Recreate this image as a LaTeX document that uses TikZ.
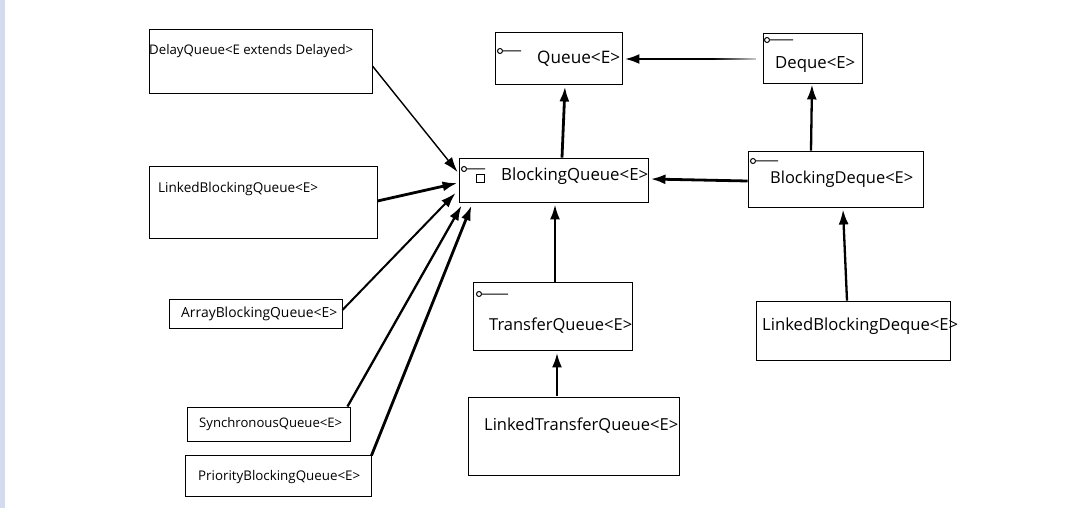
\documentclass[tikz,border=0pt]{standalone}
\usepackage{fontspec}
\setmainfont{Open Sans}
\usetikzlibrary{arrows.meta,calc,fadings}
\definecolor{edgeblue}{RGB}{212,219,236}
\tikzfading[name=fadeR, left color=transparent!100, right color=transparent!20]
\newcommand{\fitw}[2]{\resizebox{#1pt}{!}{#2}}
\tikzset{
  box/.style={draw, line width=0.9pt, rectangle, inner sep=0pt},
  lbl/.style={anchor=west, inner sep=0pt, font=\fontsize{14}{16}\selectfont},
  conn/.style={line width=2.8pt, -{Latex[length=15pt,width=10pt]}},
  iface/.style={line width=1pt},
}
\begin{document}
\begin{tikzpicture}[x=1pt,y=-1pt]
\useasboundingbox (0,0) rectangle (1074,508);
\fill[white] (0,0) rectangle (1074,508);
\fill[edgeblue] (0,0) rectangle (5,508);

% boxes
\node[box, minimum width=223pt, minimum height=64pt] (delay) at (260.5,61) {};
\node[box, minimum width=228pt, minimum height=72pt] (lbq) at (263,202) {};
\node[box, minimum width=173pt, minimum height=29pt] (abq) at (255.5,313.5) {};
\node[box, minimum width=163pt, minimum height=34pt] (sq) at (268.5,424) {};
\node[box, minimum width=186pt, minimum height=41pt] (pbq) at (278,475.5) {};
\node[box, minimum width=127pt, minimum height=52pt] (queue) at (558.5,58) {};
\node[box, minimum width=99pt, minimum height=50pt] (deque) at (812.5,58) {};
\node[box, minimum width=189pt, minimum height=44pt] (bq) at (553.5,180) {};
\node[box, minimum width=175pt, minimum height=56pt] (bd) at (835.5,179) {};
\node[box, minimum width=159pt, minimum height=68pt] (tq) at (552.5,316) {};
\node[box, minimum width=211pt, minimum height=78pt] (ltq) at (573.5,436) {};
\node[box, minimum width=194pt, minimum height=59pt] (lbd) at (853,330.5) {};

% labels
\node[lbl] (tdelay) at (149,51) {\fitw{204}{DelayQueue<E extends Delayed>}};
\node[lbl] (tlbq) at (158,189) {\fitw{160}{LinkedBlockingQueue<E>}};
\node[lbl] (tabq) at (181,314) {\fitw{156}{ArrayBlockingQueue<E>}};
\node[lbl] (tsq) at (199,424.5) {\fitw{143}{SynchronousQueue<E>}};
\node[lbl] (tpbq) at (198,477.5) {\fitw{162}{PriorityBlockingQueue<E>}};
\node[lbl] (tqueue) at (537,59) {\fitw{83}{Queue<E>}};
\node[lbl] (tdeque) at (775,65) {\fitw{80}{Deque<E>}};
\node[lbl] (tbq) at (501,176) {\fitw{147}{BlockingQueue<E>}};
\node[lbl] (tbd) at (770,179) {\fitw{143}{BlockingDeque<E>}};
\node[lbl] (ttq) at (489,326) {\fitw{143}{TransferQueue<E>}};
\node[lbl] (tltq) at (484,426) {\fitw{194}{LinkedTransferQueue<E>}};
\node[lbl] (tlbd) at (762,326) {\fitw{196}{LinkedBlockingDeque<E>}};

% interface marks
\draw[iface] (500,51) circle (2.5) (502.5,51) -- (521,51);
\draw[iface] (767,40) circle (2.5) (769.5,40) -- (793,40);
\draw[iface] (464,169) circle (2.5) (466.5,169) -- (485,169);
\draw[iface] (476,175) rectangle (484,183);
\draw[iface] (753,161) circle (2.5) (755.5,161) -- (778,161);
\draw[iface] (479,294) circle (2.5) (481.5,294) -- (508,294);

% connectors
\draw[conn, line width=1.4pt] ($(delay.east)+(0,5)$) -- ($(bq.west)+(-1,-8)$);
\draw[conn] ($(lbq.east)+(0,-1)$) -- ($(bq.west)+(-1,3)$);
\draw[conn, line width=2pt] ($(abq.east)+(0,-3.5)$) -- ($(bq.west)+(-3,13)$);
\draw[conn, line width=2.3pt] ($(sq.north east)+(-3,0)$) -- ($(bq.south west)+(3,3)$);
\draw[conn] ($(pbq.north east)+(0,1)$) -- ($(bq.south west)+(13,3)$);
\draw[conn] ($(bq.north)+(8.5,0)$) -- ($(queue.south)+(6.5,2)$);
\draw[conn] ($(deque.west)+(-7,1)$) -- ($(queue.east)+(2,1)$);
\fill[white, path fading=fadeR] ($(deque.west)+(-50,-3)$) rectangle ($(deque.west)+(-6,5)$);
\draw[conn, line width=2.3pt] ($(bd.north)+(-24.5,0)$) -- ($(deque.south)+(-0.5,1)$);
\draw[conn] ($(bd.west)+(0,2)$) -- ($(bq.east)+(2,-1)$);
\draw[conn, line width=2.3pt] ($(lbd.north)+(-6,0)$) -- ($(bd.south)+(7.5,2)$);
\draw[conn, line width=2.3pt] ($(tq.north)+(2.5,0)$) -- ($(bq.south)+(1.5,2)$);
\draw[conn] ($(ltq.north)+(-16.5,-1)$) -- ($(tq.south)+(4.5,2)$);
\end{tikzpicture}
\end{document}
